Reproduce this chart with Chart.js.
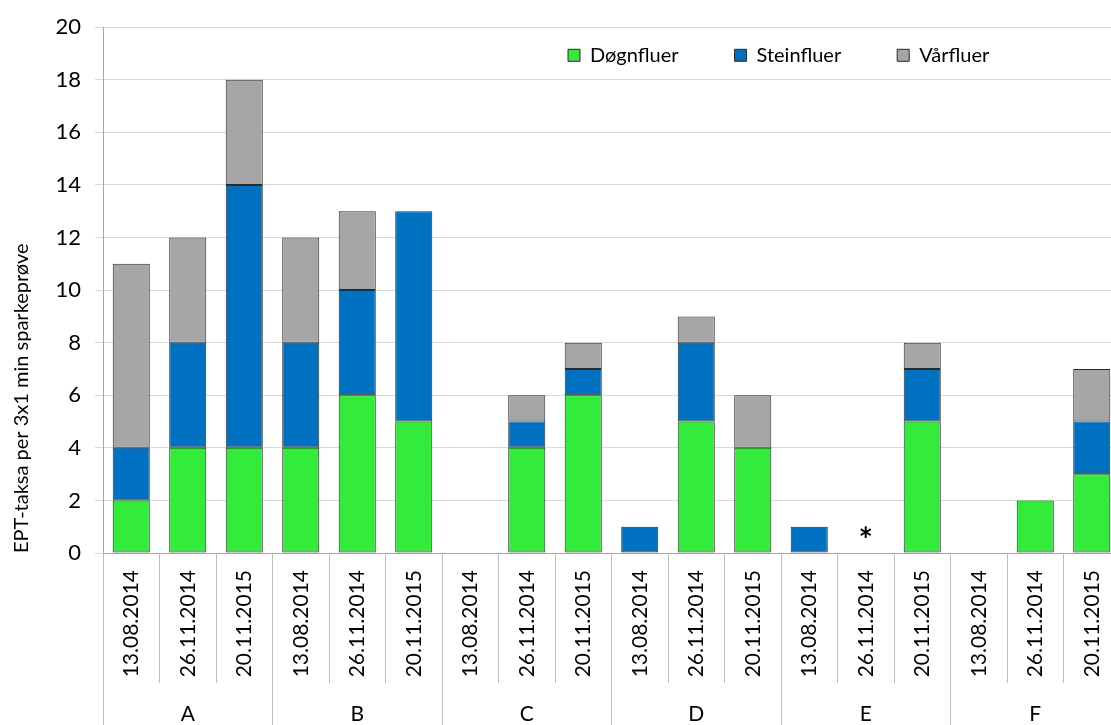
<!DOCTYPE html>
<html>
<head>
<meta charset="utf-8">
<script src="https://cdn.jsdelivr.net/npm/chart.js@4/dist/chart.umd.min.js"></script>
<style>
  html, body { margin: 0; padding: 0; background: #fff; overflow: hidden; }
  #wrap { width: 1111px; height: 725px; overflow: hidden; position: relative; }
  canvas { position: absolute; left: 0; top: 0; }
</style>
</head>
<body>
<div id="wrap"><canvas id="c" width="1134" height="725"></canvas></div>
<script>
const categories = ['13.08.2014','26.11.2014','20.11.2015','13.08.2014','26.11.2014','20.11.2015',
                    '13.08.2014','26.11.2014','20.11.2015','13.08.2014','26.11.2014','20.11.2015',
                    '13.08.2014','26.11.2014','20.11.2015','13.08.2014','26.11.2014','20.11.2015'];
const groups = ['A','B','C','D','E','F'];
const dogn  = [2,4,4, 4,6,5, 0,4,6, 0,5,4, 0,0,5, 0,2,3];
const stein = [2,4,10, 4,4,8, 0,1,1, 1,3,0, 1,0,2, 0,0,2];
const vaar  = [7,4,4, 4,3,0, 0,1,1, 0,1,2, 0,0,1, 0,0,2];
const notes = ['','','', '','','', '','','', '','','', '','*','', '','',''];
const seriesNames = ['Døgnfluer','Steinfluer','Vårfluer'];
const yTicks = [0,2,4,6,8,10,12,14,16,18,20];

const FONT = 'Lato, "Open Sans", sans-serif';
const nz = arr => arr.map(v => v === 0 ? null : v);

const groupPlugin = {
  id: 'groupPlugin',
  beforeLayout(chart) {
    const lg = chart.legend;
    if (lg && !lg._patched) {
      const f = lg.fit;
      lg.fit = function () { f.call(this); this.height = 0; };
      lg._patched = true;
    }
  },
  afterLayout(chart) {
    const lg = chart.legend;
    if (lg) {
      lg.top = -10.7; lg.bottom = 90; lg.height = lg.bottom - lg.top;
      lg.left = 512; lg.right = 1134; lg.width = lg.right - lg.left;
    }
  },
  afterDraw(chart) {
    const ctx = chart.ctx;
    const xs = chart.scales.x, ys = chart.scales.y;
    const bottom = chart.chartArea.bottom;
    ctx.save();
    ctx.strokeStyle = '#bfbfbf';
    ctx.lineWidth = 1;
    for (let i = 0; i <= categories.length; i++) {
      const x = Math.round(xs.getPixelForValue(i - 0.5)) + 0.5;
      const yEnd = (i % 3 === 0) ? 725 : 683;
      ctx.beginPath();
      ctx.moveTo(x, bottom);
      ctx.lineTo(x, yEnd);
      ctx.stroke();
    }
    ctx.fillStyle = '#000';
    ctx.font = '21px ' + FONT;
    ctx.textAlign = 'center';
    ctx.textBaseline = 'middle';
    groups.forEach((g, gi) => {
      const x = (xs.getPixelForValue(gi * 3 - 0.5) + xs.getPixelForValue(gi * 3 + 2.5)) / 2;
      ctx.fillText(g, x, 714);
    });
    ctx.font = 'bold 34px ' + FONT;
    notes.forEach((n, i) => {
      if (!n) return;
      ctx.fillText(n, xs.getPixelForValue(i), ys.getPixelForValue(0) - 12);
    });
    ctx.restore();
  }
};

const common = { borderColor: '#2b2b2b', borderWidth: 1, borderSkipped: false,
                 barPercentage: 0.656, categoryPercentage: 1.0 };

new Chart(document.getElementById('c'), {
  type: 'bar',
  data: {
    labels: categories,
    datasets: [
      Object.assign({ label: seriesNames[0], data: nz(dogn),  backgroundColor: '#33eb3a' }, common),
      Object.assign({ label: seriesNames[1], data: nz(stein), backgroundColor: '#0070c0' }, common),
      Object.assign({ label: seriesNames[2], data: nz(vaar),  backgroundColor: '#a6a6a6' }, common)
    ]
  },
  options: {
    responsive: false,
    devicePixelRatio: 1,
    animation: false,
    layout: { padding: { top: 24, right: 2, left: 0, bottom: 0 } },
    plugins: {
      legend: {
        display: true,
        position: 'top',
        align: 'start',
        labels: {
          boxWidth: 12, boxHeight: 12, padding: 56,
          color: '#000',
          font: { family: FONT, size: 20 }
        }
      },
      tooltip: { enabled: false }
    },
    scales: {
      x: {
        stacked: true,
        grid: { display: false, drawTicks: false },
        border: { display: true, color: '#a6a6a6', width: 1 },
        ticks: {
          autoSkip: false, minRotation: 90, maxRotation: 90,
          padding: 17, color: '#000',
          font: { family: FONT, size: 21 }
        },
        afterFit(scale) { scale.height = 172; }
      },
      y: {
        stacked: true,
        min: 0, max: 20,
        afterBuildTicks(scale) { scale.ticks = yTicks.map(v => ({ value: v })); },
        grid: { color: '#d9d9d9', tickLength: 8, tickColor: '#d9d9d9' },
        border: { display: true, color: '#a6a6a6', width: 1 },
        ticks: { padding: 14, color: '#000', font: { family: FONT, size: 22 } },
        title: {
          display: true,
          text: 'EPT-taksa per 3x1 min sparkeprøve',
          align: 'start',
          color: '#000',
          font: { family: FONT, size: 20 },
          padding: { top: 10, bottom: 0 }
        },
        afterFit(scale) { scale.width = 103; }
      }
    }
  },
  plugins: [groupPlugin]
});
</script>
</body>
</html>
